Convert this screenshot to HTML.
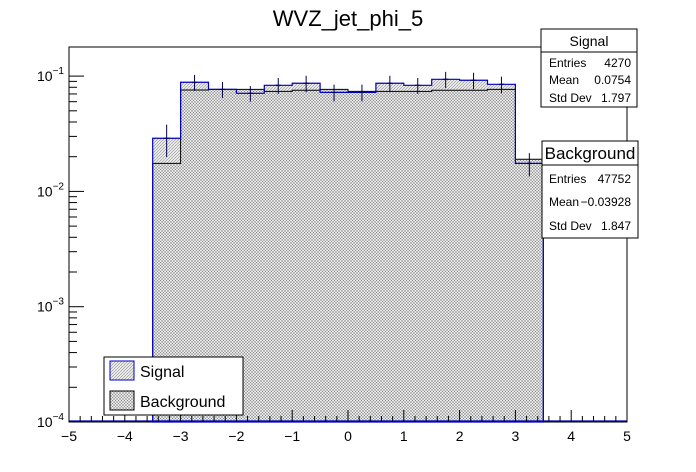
<!DOCTYPE html>
<html><head><meta charset="utf-8"><style>
html,body{margin:0;padding:0;background:#fff;}
svg{display:block;font-family:"Liberation Sans",sans-serif;}
</style></head><body>
<svg id="c" width="696" height="472" viewBox="0 0 696 472">
<defs>
<pattern id="hb" width="3" height="3" patternUnits="userSpaceOnUse">
<rect width="3" height="3" fill="#e8e8e8"/>
<path d="M0,3 L3,0 M0,0 L3,3" stroke="#8a8a8a" stroke-width="0.5"/>
</pattern>
<pattern id="hs" width="3" height="3" patternUnits="userSpaceOnUse">
<rect width="3" height="3" fill="#ececec"/>
<path d="M0,3 L3,0" stroke="#909090" stroke-width="0.6"/>
</pattern>
</defs>
<text x="348" y="26" font-size="22" text-anchor="middle">WVZ_jet_phi_5</text>
<g id="plot"></g>
<g>
<rect x="541" y="29" width="96" height="78" fill="#fff" stroke="#000"/>
<line x1="541" y1="52" x2="637" y2="52" stroke="#000"/>
<text x="589" y="46" font-size="14" text-anchor="middle">Signal</text>
<text x="549" y="67" font-size="12">Entries</text><text x="631" y="67" font-size="12" text-anchor="end">4270</text>
<text x="549" y="84" font-size="12">Mean</text><text x="631" y="84" font-size="12" text-anchor="end">0.0754</text>
<text x="549" y="102" font-size="12">Std Dev</text><text x="631" y="102" font-size="12" text-anchor="end">1.797</text>
</g>
<g>
<rect x="542" y="141" width="96" height="97" fill="#fff" stroke="#000"/>
<line x1="542" y1="165" x2="638" y2="165" stroke="#000"/>
<text x="590" y="159" font-size="17" text-anchor="middle">Background</text>
<text x="549" y="183" font-size="12">Entries</text><text x="631" y="183" font-size="12" text-anchor="end">47752</text>
<text x="549" y="206" font-size="12">Mean</text><text x="631" y="206" font-size="12" text-anchor="end">−0.03928</text>
<text x="549" y="230" font-size="12">Std Dev</text><text x="631" y="230" font-size="12" text-anchor="end">1.847</text>
</g>
<g>
<rect x="104" y="357" width="139" height="58" fill="#fff" stroke="#000"/>
<g>
<rect x="110" y="361" width="24" height="19" fill="url(#hs)" stroke="#0000c0"/>
<text x="140" y="377" font-size="16">Signal</text></g>
<g>
<rect x="110" y="391" width="24" height="19" fill="url(#hb)" stroke="#000"/>
<text x="140" y="407" font-size="16">Background</text></g>
</g>
</svg>
<script>
const binEdgesLo = [-3.5,-3,-2.5,-2,-1.5,-1,-0.5,0,0.5,1,1.5,2,2.5,3];
const signalVals = [0.0289,0.0884,0.0768,0.0709,0.0832,0.0867,0.0723,0.0723,0.0867,0.0832,0.0938,0.092,0.0849,0.0175];
const signalErrs = [0.009,0.014,0.012,0.011,0.013,0.014,0.012,0.012,0.014,0.013,0.015,0.015,0.014,0.004];
const backgroundVals = [0.0175,0.0757,0.0768,0.0768,0.0738,0.0753,0.0768,0.0738,0.0738,0.0738,0.0753,0.0753,0.0768,0.019];
const xTicks = [-5,-4,-3,-2,-1,0,1,2,3,4,5];
const yDecades = [-4,-3,-2,-1];
const binW = 0.5;
const NS='http://www.w3.org/2000/svg';
const X0=69,X1=627,Y0=47,Y1=422;
function xs(v){return X0+(v+5)/10*(X1-X0);}
function ys(v){return Y1-(Math.log10(v)+4)*115.3;}
const g=document.getElementById('plot');
function mk(t,a){const e=document.createElementNS(NS,t);for(const k in a)e.setAttribute(k,a[k]);g.appendChild(e);return e;}
const frame=mk('rect',{x:X0,y:Y0,width:X1-X0,height:Y1-Y0,fill:'none',stroke:'#000'});


function histPath(vals){let d='M'+xs(binEdgesLo[0])+','+Y1;
 vals.forEach((v,i)=>{d+=' L'+xs(binEdgesLo[i])+','+ys(v)+' L'+xs(binEdgesLo[i]+binW)+','+ys(v);});
 d+=' L'+xs(binEdgesLo[binEdgesLo.length-1]+binW)+','+Y1+' Z';return d;}
const sf=mk('path',{d:histPath(signalVals),fill:'url(#hs)',stroke:'none'});


const bp=mk('path',{d:histPath(backgroundVals),fill:'url(#hb)',stroke:'#000','stroke-width':1});


const sp=mk('path',{d:histPath(signalVals),fill:'none',stroke:'#0000c0','stroke-width':1.2});


const bl=mk('path',{d:'M'+X0+','+(Y1-1)+' L'+X1+','+(Y1-1),stroke:'#0000c0','stroke-width':1.2});


signalVals.forEach((v,i)=>{const cx=xs(binEdgesLo[i]+binW/2);
 const e=mk('path',{d:'M'+cx+','+ys(v+signalErrs[i])+' L'+cx+','+ys(v-signalErrs[i])+' M'+xs(binEdgesLo[i]+0.2)+','+ys(v)+' L'+xs(binEdgesLo[i]+0.3)+','+ys(v),stroke:'#000050','stroke-width':1});
 
 });
xTicks.forEach(t=>{const x=xs(t);
 mk('line',{x1:x,y1:Y1,x2:x,y2:Y1-12,stroke:'#000'});
 if(t<5){for(let k=1;k<5;k++){const xm=xs(t+k*0.2);mk('line',{x1:xm,y1:Y1,x2:xm,y2:Y1-6,stroke:'#000'});}}
 const tx=mk('text',{x:x,y:Y1+19,'font-size':14,'text-anchor':'middle'});tx.textContent=(t<0?'−':'')+Math.abs(t);
 
 });
yDecades.forEach(d=>{const y=ys(Math.pow(10,d));
 mk('line',{x1:X0,y1:y,x2:X0+15,y2:y,stroke:'#000'});
 for(let m=2;m<10;m++){const v=m*Math.pow(10,d);if(ys(v)<Y0)break;mk('line',{x1:X0,y1:ys(v),x2:X0+8,y2:ys(v),stroke:'#000'});}
 const tx=mk('text',{x:37,y:y+5,'font-size':14});tx.innerHTML='10<tspan dy="-7" font-size="10">−'+Math.abs(d)+'</tspan>';
 
 });
</script>
</body></html>
